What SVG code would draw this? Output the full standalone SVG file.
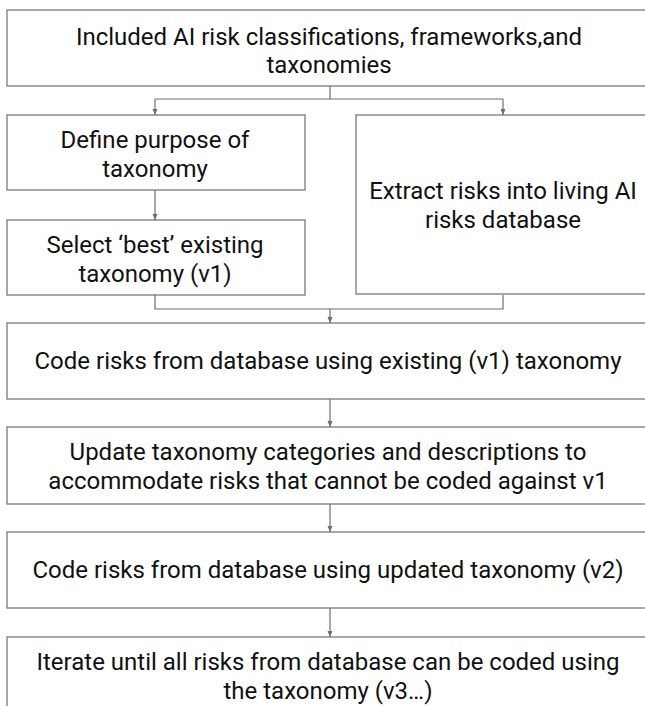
<svg xmlns="http://www.w3.org/2000/svg" width="645" height="706" viewBox="0 0 645 706">
<style>
.box{fill:#fff;stroke:#6f6f6f;stroke-width:1.2}
.t{font-family:Roboto,"Liberation Sans",sans-serif;font-size:24px;fill:#111;text-anchor:middle}
.c{fill:none;stroke:#6f6f6f;stroke-width:1.2}
</style>
<defs>
<marker id="ah" viewBox="0 0 6 6" refX="6" refY="3" markerWidth="6" markerHeight="6" markerUnits="userSpaceOnUse" orient="auto">
<path d="M0,0.5 L6,3 L0,5.5 z" fill="#6f6f6f"/>
</marker>
</defs>
<rect width="645" height="706" fill="#fff"/>
<g id="connectors">
<path class="c" d="M330,86 V99 M155,99 H503 M155,99 V115" marker-end="url(#ah)"/>
<path class="c" d="M503,99 V115" marker-end="url(#ah)"/>
<path class="c" d="M155,190 V220" marker-end="url(#ah)"/>
<path class="c" d="M155,295 V309 H503 V295"/>
<path class="c" d="M330,309 V323" marker-end="url(#ah)"/>
<path class="c" d="M330,399 V427" marker-end="url(#ah)"/>
<path class="c" d="M330,504 V532" marker-end="url(#ah)"/>
<path class="c" d="M330,608 V637" marker-end="url(#ah)"/>
</g>
<g id="n1"><rect class="box" x="7" y="10" width="645" height="76"/>
<text class="t" x="329" y="45">Included AI risk classifications, frameworks,and</text>
<text class="t" x="329" y="73">taxonomies</text></g>
<g id="n2"><rect class="box" x="7" y="115" width="298" height="75"/>
<text class="t" x="155" y="148">Define purpose of</text>
<text class="t" x="155" y="177">taxonomy</text></g>
<g id="n3"><rect class="box" x="7" y="220" width="298" height="75"/>
<text class="t" x="155" y="253">Select ‘best’ existing</text>
<text class="t" x="155" y="282">taxonomy (v1)</text></g>
<g id="n4"><rect class="box" x="356" y="115" width="296" height="179"/>
<text class="t" x="503" y="199">Extract risks into living AI</text>
<text class="t" x="503" y="228">risks database</text></g>
<g id="n5"><rect class="box" x="7" y="323" width="645" height="76"/>
<text class="t" x="328" y="369">Code risks from database using existing (v1) taxonomy</text></g>
<g id="n6"><rect class="box" x="7" y="427" width="645" height="77"/>
<text class="t" x="328" y="460">Update taxonomy categories and descriptions to</text>
<text class="t" x="328" y="489">accommodate risks that cannot be coded against v1</text></g>
<g id="n7"><rect class="box" x="7" y="532" width="645" height="76"/>
<text class="t" x="328" y="578">Code risks from database using updated taxonomy (v2)</text></g>
<g id="n8"><rect class="box" x="7" y="637" width="645" height="90"/>
<text class="t" x="328" y="670">Iterate until all risks from database can be coded using</text>
<text class="t" x="328" y="699">the taxonomy (v3…)</text></g>
</svg>
